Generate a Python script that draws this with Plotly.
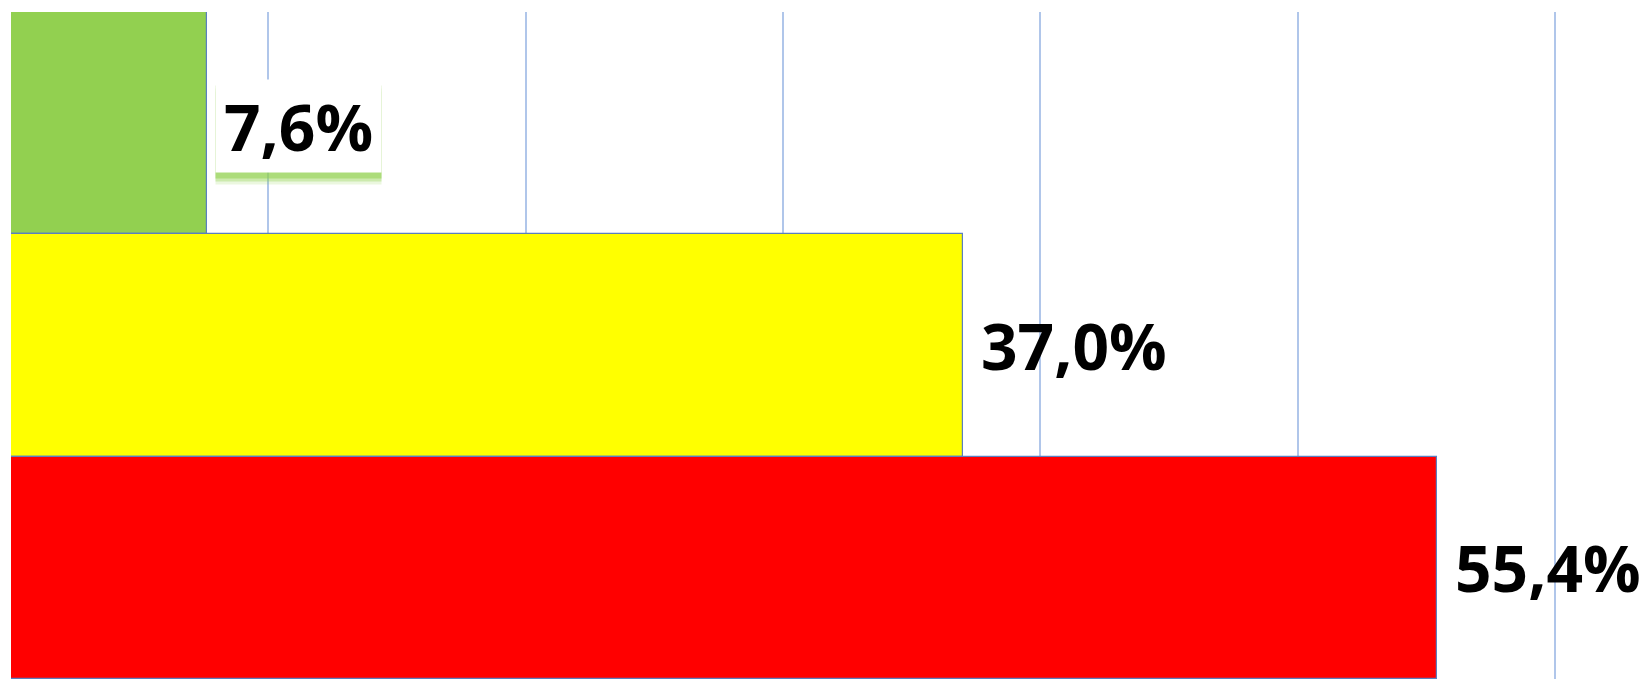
import plotly.graph_objects as go

categories = ["Baixo", "Médio", "Alto"]
values = [0.076, 0.370, 0.554]
labels = ["7,6%", "37,0%", "55,4%"]
colors = ["#92D050", "#FFFF00", "#FF0000"]

fig = go.Figure()
fig.add_trace(go.Bar(
    y=categories, x=values, orientation="h",
    marker=dict(color=colors, line=dict(color="#5A7FC0", width=1.2)),
    hoverinfo="skip", showlegend=False,
))

font = dict(family="'Open Sans', Lato, sans-serif", size=64, color="#000000", weight=700)
for i, (cat, v, lab) in enumerate(zip(categories, values, labels)):
    if i == 0:
        # soft green shadow beneath the boxed label (blank boxes)
        for ys, a in [(-12, 0.18), (-9, 0.35), (-6, 0.55)]:
            fig.add_annotation(x=v, y=cat, xref="x", yref="y", text=" ", showarrow=False,
                               xanchor="left", yanchor="middle", xshift=8, yshift=-3 + ys,
                               width=165, height=92, borderpad=0,
                               bgcolor=f"rgba(146,208,80,{a})")
        fig.add_annotation(x=v, y=cat, xref="x", yref="y", text=lab, showarrow=False,
                           xanchor="left", yanchor="middle", xshift=8, yshift=-3,
                           width=165, height=92, borderpad=0, align="center", valign="middle",
                           font=font, bgcolor="#FFFFFF")
    else:
        fig.add_annotation(x=v, y=cat, xref="x", yref="y", text=lab, showarrow=False,
                           xanchor="left", yanchor="middle", xshift=16,
                           font=font)

fig.update_layout(
    width=1645, height=679,
    margin=dict(l=11, r=0, t=12, b=0),
    paper_bgcolor="#FFFFFF", plot_bgcolor="#FFFFFF",
    bargap=0,
    xaxis=dict(range=[0, 0.635], dtick=0.1, tick0=0, showgrid=True, gridcolor="#B0C6EA",
               gridwidth=2, zeroline=False, showticklabels=False, showline=False, ticks=""),
    yaxis=dict(autorange="reversed", showticklabels=False, showgrid=False, zeroline=False,
               showline=False, ticks=""),
)

fig.write_html("out.html", config={"displayModeBar": False},
               post_script="document.body.style.margin='0';document.body.style.overflow='hidden';")
